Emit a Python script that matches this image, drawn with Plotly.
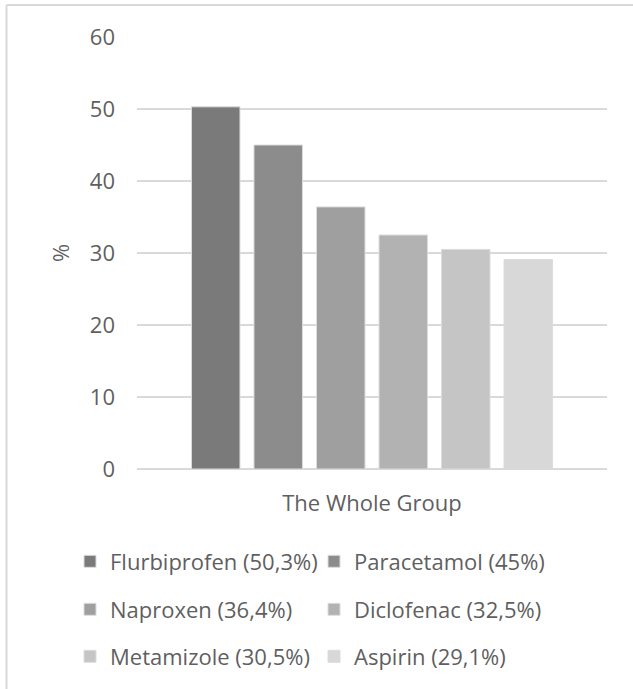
import plotly.graph_objects as go

category = ["The Whole Group"]
drugs = ["Flurbiprofen (50,3%)", "Paracetamol (45%)", "Naproxen (36,4%)",
         "Diclofenac (32,5%)", "Metamizole (30,5%)", "Aspirin (29,1%)"]
values = [50.3, 45.0, 36.4, 32.5, 30.5, 29.1]
colors = ["#7a7a7a", "#8c8c8c", "#9f9f9f", "#b2b2b2", "#c5c5c5", "#d8d8d8"]
y_ticks = [0, 10, 20, 30, 40, 50, 60]

FONT = "Open Sans"
TXT = "#5f5f5f"
GRID = "#d9d9d9"

W, H = 633, 689
L, R, T, B = 137, 26, 37, 220
PW, PH = W - L - R, H - T - B

def px2x(px):
    return (px - L) / PW

def py2y(py):
    return (H - B - py) / PH

legend_names = ["legend", "legend2", "legend3"]

fig = go.Figure()
for i, (name, v, c) in enumerate(zip(drugs, values, colors)):
    fig.add_trace(go.Bar(
        x=category, y=[v], name=name,
        marker=dict(color=c, line=dict(color="#dcdcdc", width=1)),
        legend=legend_names[i // 2],
    ))

row_y = [561.5, 609.5, 656.5]
legend_common = dict(
    orientation="h", xanchor="left", yanchor="middle",
    font=dict(family=FONT, size=22, color=TXT),
    entrywidth=199, entrywidthmode="pixels",
    bgcolor="rgba(0,0,0,0)", borderwidth=0,
)
layout_legends = {}
for ln, ry in zip(legend_names, row_y):
    layout_legends[ln] = dict(x=px2x(70), y=py2y(ry), **legend_common)

fig.update_layout(
    width=W, height=H,
    margin=dict(l=L, r=R, t=T, b=B),
    paper_bgcolor="white", plot_bgcolor="white",
    barmode="group", bargap=0.202, bargroupgap=0.224,
    font=dict(family=FONT, color=TXT),
    showlegend=True,
    xaxis=dict(
        showgrid=False, showline=False, zeroline=False,
        tickfont=dict(family=FONT, size=22, color=TXT),
        ticklabelstandoff=19,
    ),
    yaxis=dict(
        range=[0, 60], tickvals=y_ticks, ticktext=[str(t) for t in y_ticks],
        showgrid=True, gridcolor=GRID, gridwidth=1.5,
        zeroline=True, zerolinecolor=GRID, zerolinewidth=1.5,
        showline=False,
        tickfont=dict(family=FONT, size=22, color=TXT),
        ticklabelstandoff=21,
        title=dict(text="%", font=dict(family=FONT, size=22, color=TXT), standoff=14),
    ),
    shapes=[
        dict(type="line", xref="paper", yref="paper",
             x0=px2x(6.5), x1=px2x(W + 10), y0=py2y(5), y1=py2y(5),
             line=dict(color=GRID, width=2)),
        dict(type="line", xref="paper", yref="paper",
             x0=px2x(6.5), x1=px2x(6.5), y0=py2y(5), y1=py2y(H + 10),
             line=dict(color=GRID, width=2)),
    ],
    **layout_legends,
)

fig.write_html(
    "out.html",
    config={"displayModeBar": False},
    post_script="document.body.style.margin='0';document.body.style.overflow='hidden';",
)
